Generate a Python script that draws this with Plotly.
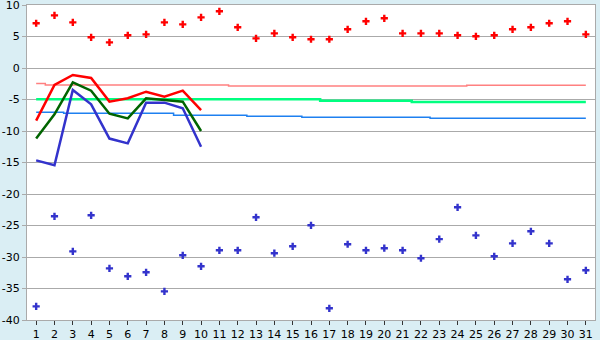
import plotly.graph_objects as go

days = list(range(1, 32))

max_temp = [7.1, 8.36, 7.25, 4.87, 4.07, 5.19, 5.34, 7.25, 6.93, 8.04,
            9.0, 6.46, 4.71, 5.5, 4.87, 4.56, 4.56, 6.14, 7.41, 7.89,
            5.5, 5.5, 5.5, 5.19, 5.03, 5.19, 6.14, 6.46, 7.1, 7.41, 5.34]
min_temp = [-37.83, -23.54, -29.1, -23.38, -31.8, -33.06, -32.43, -35.45, -29.73, -31.48,
            -28.94, -28.94, -23.7, -29.4, -28.3, -24.97, -38.14, -27.98, -28.94, -28.6,
            -28.94, -30.2, -27.16, -22.11, -26.56, -29.89, -27.83, -25.92, -27.83, -33.54, -32.11]

line_days = list(range(1, 11))
daily_max = [-8.36, -2.7, -1.11, -1.59, -5.34, -4.81, -3.76, -4.55, -3.6, -6.67]
daily_mean = [-11.2, -7.35, -2.27, -3.6, -7.25, -8.0, -4.81, -5.08, -5.34, -10.0]
daily_min = [-14.66, -15.45, -3.49, -5.76, -11.2, -11.96, -5.5, -5.5, -6.4, -12.49]

norm_max = [-2.45] + [-2.7] * 10 + [-2.87] * 13 + [-2.72] * 7
norm_mean = [-4.95] * 16 + [-5.2] * 5 + [-5.4] * 10
norm_min = [-7.04] * 2 + [-7.2] * 6 + [-7.5] * 4 + [-7.67] * 3 + [-7.83] * 7 + [-7.99] * 9

y_ticks = list(range(-40, 11, 5))

fig = go.Figure()
fig.add_trace(go.Scatter(x=days, y=norm_max, mode="lines", line=dict(color="#ff8080", width=1.5, shape="hvh")))
fig.add_trace(go.Scatter(x=days, y=norm_mean, mode="lines", line=dict(color="#00ff80", width=2.5, shape="hvh")))
fig.add_trace(go.Scatter(x=days, y=norm_min, mode="lines", line=dict(color="#1e80f0", width=1.5, shape="hvh")))
fig.add_trace(go.Scatter(x=line_days, y=daily_max, mode="lines", line=dict(color="#ff0000", width=2.5)))
fig.add_trace(go.Scatter(x=line_days, y=daily_mean, mode="lines", line=dict(color="#006400", width=2.5)))
fig.add_trace(go.Scatter(x=line_days, y=daily_min, mode="lines", line=dict(color="#3333cc", width=2.5)))
fig.add_trace(go.Scatter(x=days, y=max_temp, mode="markers", cliponaxis=False,
                         marker=dict(symbol="cross", size=6, color="#ff0000", line=dict(width=0))))
fig.add_trace(go.Scatter(x=days, y=min_temp, mode="markers", cliponaxis=False,
                         marker=dict(symbol="cross", size=6, color="#3333cc", line=dict(width=0))))

fig.update_layout(
    width=600, height=340,
    margin=dict(l=27, r=5, t=5, b=20, autoexpand=False),
    paper_bgcolor="#daeef4",
    plot_bgcolor="#ffffff",
    showlegend=False,
    font=dict(family="DejaVu Sans", size=11, color="#000000"),
    xaxis=dict(range=[0.5, 31.5], tickmode="array", tickvals=days, ticktext=[str(d) for d in days],
               showgrid=False, zeroline=False, ticks="outside", ticklen=4, tickcolor="#333333",
               showline=True, linecolor="#aaaaaa", linewidth=1, mirror=True, automargin=False,
               ticklabeloverflow="allow", ticklabelstandoff=0,
               tickfont=dict(size=11)),
    yaxis=dict(range=[-40, 10], tickmode="array", tickvals=y_ticks,
               ticktext=[str(v) for v in y_ticks],
               showgrid=True, gridcolor="#aaaaaa", gridwidth=1, zeroline=False,
               ticks="outside", ticklen=4, tickcolor="#aaaaaa", automargin=False,
               ticklabeloverflow="allow", ticklabelstandoff=0,
               showline=True, linecolor="#aaaaaa", linewidth=1, mirror=True,
               tickfont=dict(size=11)),
)

fig.write_html("out.html")
